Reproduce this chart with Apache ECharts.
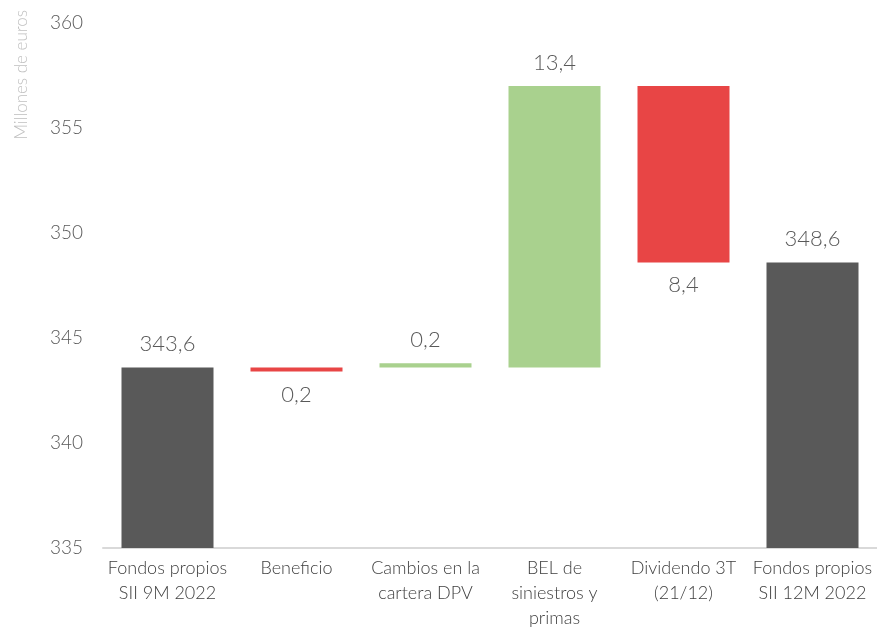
<!DOCTYPE html>
<html>
<head>
<meta charset="utf-8">
<script src="https://cdn.jsdelivr.net/npm/echarts@6/dist/echarts.min.js"></script>
<style>
  html, body { margin: 0; padding: 0; background: #fff; }
  #chart { width: 877px; height: 635px; }
</style>
</head>
<body>
<div id="chart"></div>
<script>
// categorias del eje x
const categories = [
  'Fondos propios\nSII 9M 2022',
  'Beneficio',
  'Cambios en la\ncartera DPV',
  'BEL de\nsiniestros y\nprimas',
  'Dividendo 3T\n(21/12)',
  'Fondos propios\nSII 12M 2022'
]
// base y tope de cada barra (millones de euros)
const lows = [335, 343.4, 343.6, 343.6, 348.6, 335]
const highs = [343.6, 343.6, 343.8, 357.0, 357.0, 348.6]
const labels = ['343,6', '0,2', '0,2', '13,4', '8,4', '348,6']
const kinds = ['total', 'down', 'up', 'up', 'down', 'total']
const yTicks = [335, 340, 345, 350, 355, 360]

const colors = { total: '#595959', up: '#a9d18e', down: '#e84545' }
const font = 'Lato, "Open Sans", sans-serif'

const chart = echarts.init(document.getElementById('chart'))

const opt = {
  animation: false,
  grid: { left: 103, right: 0, top: 23, bottom: 87 },
  xAxis: {
    type: 'category',
    data: categories,
    axisLine: { lineStyle: { color: '#d9d9d9', width: 2 } },
    axisTick: { show: false },
    axisLabel: {
      interval: 0,
      color: '#404040',
      fontFamily: font,
      fontWeight: 300,
      fontSize: 18,
      lineHeight: 25,
      margin: 8
    }
  },
  yAxis: {
    type: 'value',
    min: yTicks[0],
    max: yTicks[yTicks.length - 1],
    interval: 5,
    splitLine: { show: false },
    axisLine: { show: false },
    axisTick: { show: false },
    axisLabel: {
      color: '#595959',
      fontFamily: font,
      fontWeight: 300,
      fontSize: 19,
      margin: 20
    }
  },
  graphic: [{
    type: 'text',
    left: 13,
    top: 10,
    rotation: Math.PI / 2,
    style: {
      text: 'Millones de euros',
      fill: '#c0c0c0',
      font: '300 17px ' + font
    }
  }],
  series: [
    {
      type: 'bar',
      stack: 'w',
      barWidth: 92,
      itemStyle: { color: 'transparent' },
      silent: true,
      data: lows
    },
    {
      type: 'bar',
      stack: 'w',
      barWidth: 92,
      data: highs.map((h, i) => ({
        value: +(h - lows[i]).toFixed(2),
        itemStyle: { color: colors[kinds[i]] },
        label: {
          show: true,
          position: kinds[i] === 'down' ? 'bottom' : 'top',
          distance: 12,
          formatter: labels[i],
          color: '#595959',
          fontFamily: font,
          fontWeight: 300,
          fontSize: 22
        }
      }))
    }
  ]
}

chart.setOption(opt)
</script>
</body>
</html>
